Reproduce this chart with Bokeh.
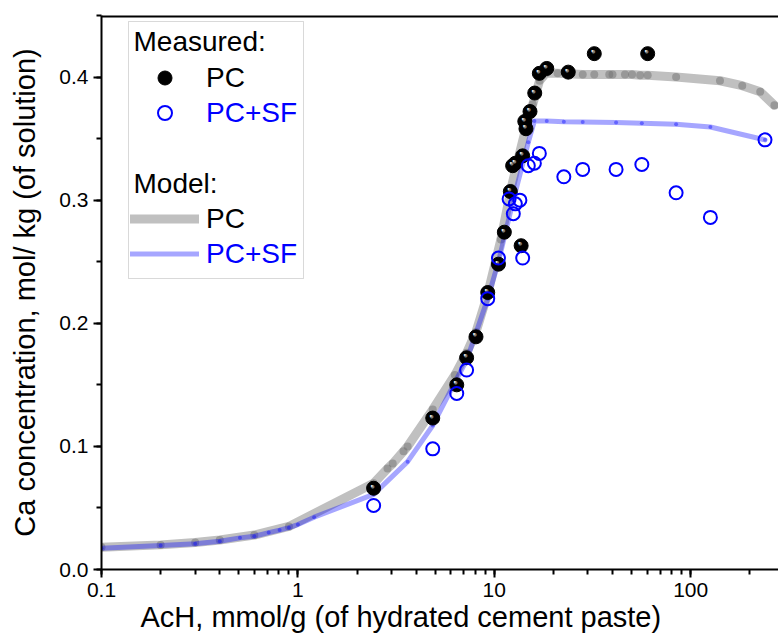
from bokeh.plotting import figure
from bokeh.models import (Legend, LegendItem, Label, BoxAnnotation, Span, Range1d, Title,
                          SingleIntervalTicker, PrintfTickFormatter, NumeralTickFormatter,
                          ColumnDataSource)
from bokeh.embed import file_html
from bokeh.resources import INLINE
from bokeh.core.properties import value

# ---- data ----
# Measured, PC
pc_meas_x = [2.43, 4.86, 6.44, 7.23, 8.07, 9.26, 10.5, 11.25, 12.07, 12.4, 12.8, 13.7,
             13.95, 14.3, 14.5, 15.2, 16.07, 16.96, 18.5, 23.8, 32.3, 60.4]
pc_meas_y = [0.066, 0.123, 0.150, 0.172, 0.189, 0.225, 0.248, 0.274, 0.307, 0.328, 0.330, 0.263,
             0.336, 0.364, 0.358, 0.372, 0.387, 0.403, 0.407, 0.404, 0.419, 0.419]
# Measured, PC+SF
sf_meas_x = [2.43, 4.86, 6.44, 7.23, 9.26, 10.5, 11.9, 12.5, 12.8, 13.5, 13.95, 14.9, 16.0,
             16.96, 22.6, 28.2, 41.7, 56.4, 84.3, 126, 239]
sf_meas_y = [0.052, 0.098, 0.143, 0.162, 0.220, 0.253, 0.301, 0.289, 0.297, 0.300, 0.253, 0.328,
             0.330, 0.338, 0.319, 0.325, 0.325, 0.329, 0.306, 0.286, 0.349]
# Model, PC
pc_model_x = [0.1, 0.2, 0.3, 0.4, 0.6, 0.9, 2.43, 2.86, 3.04, 3.45, 3.62, 4.86, 6.3, 7.23,
              8.07, 9.26, 10.8, 12.2, 13.4, 14.5, 15.7, 17.0, 18.3, 21.0, 28.2, 32.3, 38.5,
              40.0, 46.3, 50.3, 55.3, 60.4, 84.3, 141, 183, 226, 267]
pc_model_y = [0.018, 0.020, 0.022, 0.024, 0.028, 0.035, 0.070, 0.082, 0.086, 0.096, 0.100,
              0.130, 0.158, 0.176, 0.193, 0.224, 0.268, 0.310, 0.337, 0.359, 0.378, 0.397,
              0.403, 0.403, 0.402, 0.402, 0.402, 0.402, 0.402, 0.402, 0.4015, 0.4015, 0.400,
              0.397, 0.393, 0.388, 0.377]
# Model, PC+SF
sf_model_x = [0.1, 0.2, 0.3, 0.4, 0.507, 0.6, 0.71, 0.807, 0.9, 1.0, 1.21, 2.43, 3.62, 4.86,
              6.3, 7.23, 9.26, 10.5, 12.5, 14.9, 16.0, 18.5, 22.6, 28.2, 41.7, 56.4, 84.3,
              126, 239]
sf_model_y = [0.0173, 0.0195, 0.021, 0.023, 0.0257, 0.027, 0.030, 0.032, 0.034, 0.0365,
              0.0425, 0.061, 0.0876, 0.117, 0.152, 0.170, 0.220, 0.250, 0.300, 0.347, 0.3643,
              0.3643, 0.3637, 0.3635, 0.363, 0.3624, 0.3616, 0.3594, 0.349]

x_title = "AcH, mmol/g (of hydrated cement paste)"
y_title = "Ca concentration, mol/ kg (of solution)"

FONT = "Liberation Sans"

p = figure(width=778, height=639, x_axis_type="log",
           x_range=Range1d(0.1, 280), y_range=Range1d(0, 0.45),
           output_backend="svg", toolbar_location=None,
           min_border_left=101, min_border_right=0, min_border_top=15, min_border_bottom=70)
p.xgrid.visible = False
p.ygrid.visible = False
p.outline_line_color = None
p.background_fill_color = "white"
p.border_fill_color = "white"

# axes
for ax in (p.xaxis[0], p.yaxis[0]):
    ax.axis_line_width = 2
    ax.axis_line_color = "black"
    ax.major_tick_line_width = 2
    ax.minor_tick_line_width = 2
    ax.major_tick_in = 0
    ax.major_tick_out = 8
    ax.minor_tick_in = 0
    ax.minor_tick_out = 5
    ax.major_label_text_font = FONT
    ax.major_label_text_font_size = "21px"
    ax.major_label_text_color = "black"
    ax.axis_label_text_font = FONT
    ax.axis_label_text_font_style = "normal"
    ax.axis_label_text_color = "black"

p.yaxis.axis_label = y_title
p.yaxis.axis_label_text_font_size = "29px"
p.xaxis.formatter = NumeralTickFormatter(format="0.[0]")
p.yaxis.ticker = SingleIntervalTicker(interval=0.1, num_minor_ticks=2)
p.yaxis.formatter = PrintfTickFormatter(format="%.1f")
p.xaxis.major_label_standoff = 5
p.yaxis.major_label_standoff = 5
p.yaxis.axis_label_standoff = 15

# x-axis title (placed off-centre, as in the original)
p.add_layout(Title(text=x_title, align="left", offset=39, standoff=3,
                   text_font=FONT, text_font_size="29px", text_font_style="normal",
                   text_color="black", vertical_align="top"), "below")

# top border
p.add_layout(Span(location=0.45, dimension="width", line_color="black", line_width=4))

# model lines
pc_line = p.line(pc_model_x, pc_model_y, line_color="#c0c0c0", line_width=9,
                 line_cap="round", line_join="round")
p.scatter(pc_model_x, pc_model_y, size=8, fill_color="#707070", fill_alpha=0.5, line_alpha=0)
sf_line = p.line(sf_model_x, sf_model_y, line_color="#0000ff", line_alpha=0.35, line_width=5,
                 line_cap="round", line_join="round")
p.scatter(sf_model_x, sf_model_y, size=4, fill_color="#0000ff", fill_alpha=0.4, line_alpha=0)

# measured PC: shaded spheres
src_pc = ColumnDataSource(dict(x=pc_meas_x, y=pc_meas_y))
pc_pts = p.scatter("x", "y", source=src_pc, size=14, fill_color="black", line_color="black",
                   line_width=1)
p.text("x", "y", text=value("●"), source=src_pc, text_color="#7a7a7a",
       text_font_size="8px", text_align="center", text_baseline="middle",
       x_offset=-1, y_offset=-2)
p.text("x", "y", text=value("●"), source=src_pc, text_color="white",
       text_font_size="4px", text_align="center", text_baseline="middle",
       x_offset=-2, y_offset=-3)

# measured PC+SF: open circles
sf_pts = p.scatter(sf_meas_x, sf_meas_y, size=13, fill_alpha=0, line_color="#0000ff",
                   line_width=2)

# legend box and headers
p.add_layout(BoxAnnotation(left=27, right=202, bottom=291, top=548,
                           left_units="screen", right_units="screen",
                           bottom_units="screen", top_units="screen",
                           fill_color="white", fill_alpha=1, line_color="#808080",
                           line_width=1, level="underlay"))
for txt, yy in (("Measured:", 528), ("Model:", 386)):
    p.add_layout(Label(x=32, y=yy, x_units="screen", y_units="screen", text=txt,
                       text_font=FONT, text_font_size="28px", text_baseline="middle",
                       text_color="black"))


def row_legend(label, renderers, color, y):
    lg = Legend(items=[LegendItem(label=label, renderers=renderers)], location=(29, y),
                orientation="vertical", padding=0, margin=0, spacing=0,
                glyph_width=69, glyph_height=35, label_height=35, label_standoff=7,
                label_text_font=FONT, label_text_font_size="28px",
                label_text_color=color, border_line_alpha=0, background_fill_alpha=0)
    p.add_layout(lg)


row_legend("PC", [pc_pts], "black", 474)
row_legend("PC+SF", [sf_pts], "#0000ff", 439)
row_legend("PC", [pc_line], "black", 333)
row_legend("PC+SF", [sf_line], "#0000ff", 298)

open("out.html", "w").write(file_html(p, INLINE))
